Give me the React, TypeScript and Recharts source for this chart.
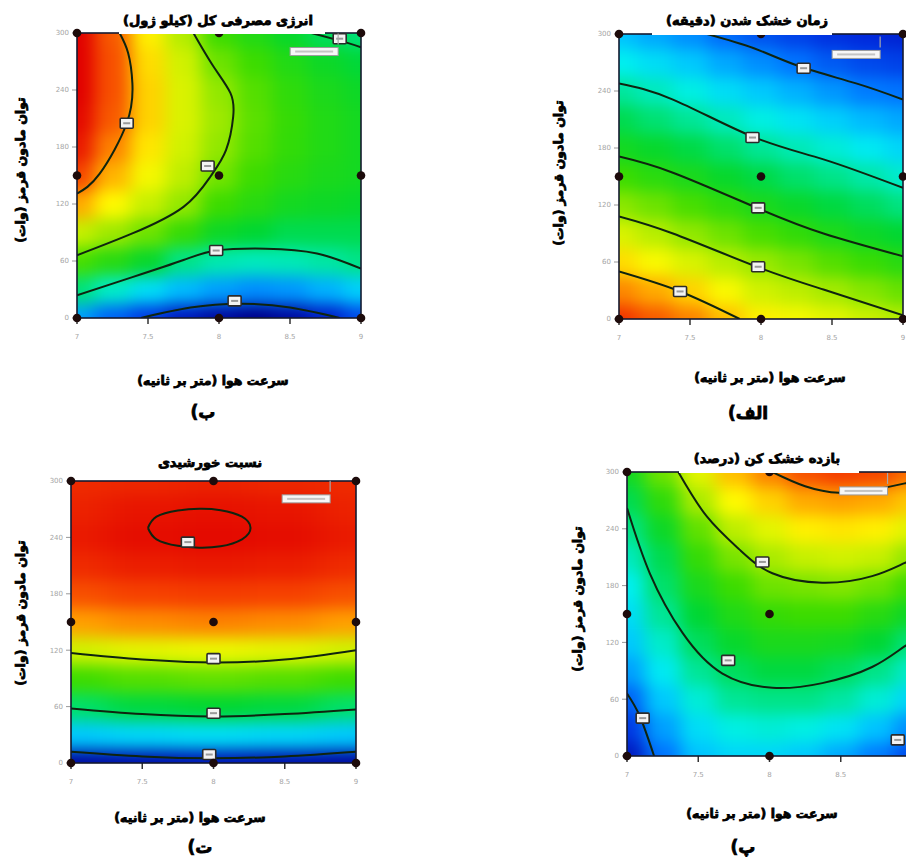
import React from 'react';
import { ScatterChart, Scatter, XAxis, YAxis } from 'recharts';

// axis ticks (air speed m/s, IR power W)
const airSpeedTicks = [7, 7.5, 8, 8.5, 9];
const powerTicks = [0, 60, 120, 180, 240, 300];

// sampling grid the colour field was read on
const gridX = [7, 7.25, 7.5, 7.75, 8, 8.25, 8.5, 8.75, 9];
const gridXCoarse = [7, 7.5, 8, 8.5, 9];
const gridY = [0, 30, 60, 90, 120, 150, 180, 210, 240, 270, 300];

// face-centred design points
const designPoints = [
  { x: 7, y: 0 }, { x: 8, y: 0 }, { x: 9, y: 0 },
  { x: 7, y: 150 }, { x: 8, y: 150 }, { x: 9, y: 150 },
  { x: 7, y: 300 }, { x: 8, y: 300 }, { x: 9, y: 300 },
];
const frameCorner = [{ x: 7, y: 300 }];

// ---- الف : drying time (relative level, one column per gridX, rows = gridY)
const dryField = [
  [0.94, 0.855, 0.77, 0.7, 0.625, 0.56, 0.5, 0.45, 0.395, 0.33, 0.26],
  [0.9, 0.82, 0.735, 0.665, 0.6, 0.535, 0.48, 0.425, 0.37, 0.3, 0.23],
  [0.86, 0.78, 0.7, 0.63, 0.57, 0.51, 0.457, 0.4, 0.34, 0.27, 0.2],
  [0.8, 0.735, 0.665, 0.6, 0.54, 0.48, 0.43, 0.37, 0.3, 0.23, 0.16],
  [0.75, 0.69, 0.635, 0.57, 0.51, 0.455, 0.4, 0.34, 0.27, 0.2, 0.13],
  [0.73, 0.67, 0.61, 0.545, 0.485, 0.43, 0.375, 0.31, 0.24, 0.17, 0.11],
  [0.71, 0.645, 0.58, 0.515, 0.46, 0.41, 0.35, 0.28, 0.21, 0.14, 0.09],
  [0.685, 0.62, 0.555, 0.49, 0.44, 0.385, 0.32, 0.25, 0.18, 0.12, 0.08],
  [0.66, 0.595, 0.53, 0.47, 0.415, 0.357, 0.29, 0.23, 0.17, 0.11, 0.07],
];
const dryContours = [
  [{ x: 7.62, y: 300 }, { x: 7.95, y: 285 }, { x: 8.27, y: 266 }, { x: 8.67, y: 248 }, { x: 9, y: 231 }],
  [{ x: 7, y: 248 }, { x: 7.38, y: 231 }, { x: 7.94, y: 192 }, { x: 8.44, y: 168 }, { x: 9, y: 138 }],
  [{ x: 7, y: 171 }, { x: 7.38, y: 154 }, { x: 7.97, y: 117 }, { x: 8.44, y: 90 }, { x: 9, y: 66 }],
  [{ x: 7, y: 108 }, { x: 7.38, y: 90 }, { x: 7.97, y: 55 }, { x: 8.44, y: 31 }, { x: 9, y: 4 }],
  [{ x: 7, y: 50 }, { x: 7.43, y: 29 }, { x: 7.85, y: 0 }],
];
const dryLabels = [{ x: 8.3, y: 264 }, { x: 7.94, y: 191 }, { x: 7.98, y: 117 }, { x: 7.98, y: 55 }, { x: 7.43, y: 29 }];
const dryNote = [{ x: 8.67, y: 278.5 }];

// ---- ب : total energy
const energyField = [
  [0.22, 0.42, 0.57, 0.68, 0.82, 0.92, 0.97, 0.99, 1, 1, 1],
  [0.15, 0.36, 0.53, 0.64, 0.74, 0.81, 0.86, 0.9, 0.91, 0.91, 0.9],
  [0.1, 0.3, 0.48, 0.6, 0.68, 0.73, 0.76, 0.78, 0.78, 0.77, 0.75],
  [0.05, 0.25, 0.41, 0.55, 0.63, 0.67, 0.69, 0.7, 0.7, 0.69, 0.66],
  [0.02, 0.22, 0.38, 0.49, 0.56, 0.605, 0.63, 0.64, 0.63, 0.6, 0.56],
  [0, 0.2, 0.37, 0.47, 0.53, 0.56, 0.58, 0.585, 0.58, 0.56, 0.52],
  [0.02, 0.21, 0.375, 0.45, 0.5, 0.53, 0.545, 0.55, 0.54, 0.52, 0.48],
  [0.06, 0.24, 0.39, 0.45, 0.49, 0.51, 0.52, 0.52, 0.51, 0.49, 0.44],
  [0.12, 0.28, 0.41, 0.45, 0.48, 0.5, 0.5, 0.5, 0.49, 0.465, 0.42],
];
const energyContours = [
  [{ x: 7, y: 131 }, { x: 7.16, y: 152 }, { x: 7.35, y: 205 }, { x: 7.39, y: 247 }, { x: 7.36, y: 279 }, { x: 7.3, y: 300 }],
  [{ x: 7, y: 66 }, { x: 7.39, y: 89 }, { x: 7.75, y: 117 }, { x: 7.94, y: 149 }, { x: 8.05, y: 177 }, { x: 8.1, y: 212 }, { x: 8.08, y: 237 }, { x: 7.96, y: 265 }, { x: 7.82, y: 300 }],
  [{ x: 7, y: 24 }, { x: 7.39, y: 43 }, { x: 7.75, y: 61 }, { x: 7.98, y: 71 }, { x: 8.33, y: 73 }, { x: 8.69, y: 68 }, { x: 9, y: 52 }],
  [{ x: 8.65, y: 300 }, { x: 8.85, y: 292 }, { x: 9, y: 285 }],
  [{ x: 7.45, y: 0 }, { x: 7.8, y: 11 }, { x: 8.15, y: 15 }, { x: 8.5, y: 11 }, { x: 8.85, y: 0 }],
];
const energyLabels = [{ x: 7.35, y: 205 }, { x: 7.92, y: 160 }, { x: 7.98, y: 71 }, { x: 8.11, y: 18 }, { x: 8.85, y: 294 }];
const energyNote = [{ x: 8.67, y: 280.5 }];

// ---- پ : dryer efficiency
const effField = [
  [0.05, 0.1, 0.15, 0.22, 0.27, 0.3, 0.33, 0.37, 0.41, 0.45, 0.5],
  [0.17, 0.22, 0.27, 0.32, 0.36, 0.4, 0.43, 0.45, 0.49, 0.54, 0.6],
  [0.26, 0.3, 0.35, 0.4, 0.44, 0.47, 0.51, 0.55, 0.59, 0.65, 0.71],
  [0.29, 0.34, 0.4, 0.44, 0.48, 0.52, 0.56, 0.61, 0.67, 0.74, 0.8],
  [0.29, 0.35, 0.41, 0.46, 0.51, 0.55, 0.6, 0.65, 0.71, 0.78, 0.86],
  [0.27, 0.34, 0.41, 0.46, 0.51, 0.56, 0.61, 0.68, 0.75, 0.82, 0.91],
  [0.23, 0.31, 0.39, 0.44, 0.5, 0.56, 0.62, 0.69, 0.76, 0.83, 0.93],
  [0.18, 0.26, 0.35, 0.41, 0.47, 0.53, 0.6, 0.68, 0.75, 0.82, 0.92],
  [0.12, 0.2, 0.29, 0.36, 0.42, 0.49, 0.56, 0.63, 0.71, 0.79, 0.88],
];
const effContours = [
  [{ x: 8.02, y: 300 }, { x: 8.25, y: 285 }, { x: 8.49, y: 278 }, { x: 8.72, y: 281 }, { x: 8.95, y: 288 }, { x: 9.05, y: 292 }],
  [{ x: 7.36, y: 300 }, { x: 7.56, y: 253 }, { x: 7.79, y: 218 }, { x: 8.02, y: 193 }, { x: 8.37, y: 183 }, { x: 8.72, y: 190 }, { x: 8.95, y: 204 }, { x: 9.05, y: 209 }],
  [{ x: 7, y: 262 }, { x: 7.16, y: 193 }, { x: 7.39, y: 130 }, { x: 7.67, y: 87 }, { x: 8.02, y: 72 }, { x: 8.37, y: 77 }, { x: 8.72, y: 94 }, { x: 8.95, y: 116 }, { x: 9.05, y: 122 }],
  [{ x: 7, y: 66 }, { x: 7.09, y: 42 }, { x: 7.19, y: 0 }],
];
const effLabels = [{ x: 7.95, y: 205 }, { x: 7.71, y: 101 }, { x: 7.11, y: 40 }, { x: 8.9, y: 17 }];
const effNote = [{ x: 8.66, y: 280 }];

// ---- ت : sun ratio (coarse columns, gridXCoarse)
const solarField = [
  [0.02, 0.27, 0.43, 0.56, 0.69, 0.83, 0.91, 0.95, 0.97, 0.96, 0.95],
  [0.03, 0.29, 0.46, 0.58, 0.71, 0.85, 0.925, 0.965, 0.985, 0.975, 0.955],
  [0.04, 0.3, 0.47, 0.59, 0.72, 0.86, 0.93, 0.97, 0.99, 0.98, 0.96],
  [0.03, 0.29, 0.46, 0.58, 0.71, 0.85, 0.925, 0.965, 0.985, 0.975, 0.955],
  [0.02, 0.27, 0.43, 0.56, 0.69, 0.83, 0.91, 0.95, 0.97, 0.96, 0.95],
];
const solarContours = [
  [{ x: 7.54, y: 250 }, { x: 7.6, y: 262 }, { x: 7.75, y: 268.5 }, { x: 7.9, y: 270.5 }, { x: 8.05, y: 269 }, { x: 8.2, y: 262 }, { x: 8.26, y: 250 }, { x: 8.2, y: 238 }, { x: 8.05, y: 230.5 }, { x: 7.9, y: 229 }, { x: 7.75, y: 231 }, { x: 7.6, y: 238 }, { x: 7.54, y: 250 }],
  [{ x: 7, y: 117 }, { x: 7.5, y: 110 }, { x: 8, y: 107 }, { x: 8.5, y: 110 }, { x: 9, y: 120 }],
  [{ x: 7, y: 58 }, { x: 7.5, y: 52 }, { x: 8, y: 49.5 }, { x: 8.5, y: 52 }, { x: 9, y: 57 }],
  [{ x: 7, y: 12 }, { x: 7.5, y: 7 }, { x: 8, y: 5 }, { x: 8.5, y: 7 }, { x: 9, y: 12 }],
];
const solarLabels = [{ x: 7.82, y: 235 }, { x: 8, y: 111 }, { x: 8, y: 53 }, { x: 7.97, y: 9 }];
const solarNote = [{ x: 8.65, y: 281 }];

const FONT = '"DejaVu Sans", sans-serif';
const LINE = '#0f240f';

const STOPS: [number, number[]][] = [
  [0, [0, 0, 140]],
  [0.08, [0, 40, 220]],
  [0.17, [0, 115, 255]],
  [0.26, [0, 195, 255]],
  [0.33, [0, 240, 240]],
  [0.4, [0, 230, 150]],
  [0.47, [0, 215, 50]],
  [0.56, [60, 220, 0]],
  [0.65, [170, 235, 0]],
  [0.74, [255, 250, 0]],
  [0.84, [255, 150, 0]],
  [0.93, [245, 60, 0]],
  [1, [225, 0, 0]],
];

function colour(v: number) {
  const t = Math.max(0, Math.min(1, v));
  for (let k = 1; k < STOPS.length; k++) {
    const [p1, c1] = STOPS[k];
    const [p0, c0] = STOPS[k - 1];
    if (t <= p1) {
      const f = (t - p0) / (p1 - p0);
      const c = c0.map((a, n) => Math.round(a + (c1[n] - a) * f));
      return `rgb(${c[0]},${c[1]},${c[2]})`;
    }
  }
  return 'rgb(225,0,0)';
}

const toCells = (xs: number[], field: number[][]) =>
  xs.flatMap((x, i) => gridY.map((y, j) => ({ x, y, v: field[i][j], i, j })));

const heatShape = (cw: number, ch: number, ni: number, nj: number) => (p: any) => {
  const { cx, cy, payload } = p;
  let x0 = cx - cw / 2;
  let x1 = cx + cw / 2;
  let y0 = cy - ch / 2;
  let y1 = cy + ch / 2;
  if (payload.i === 0) x0 -= 30;
  if (payload.i === ni - 1) x1 += 30;
  if (payload.j === 0) y1 += 30;
  if (payload.j === nj - 1) y0 -= 30;
  return <rect x={x0} y={y0} width={x1 - x0 + 0.6} height={y1 - y0 + 0.6} fill={colour(payload.v)} />;
};

const frameShape = (pw: number, ph: number) => (p: any) => (
  <rect x={p.cx} y={p.cy} width={pw} height={ph} fill="none" stroke="#151a30" strokeWidth={1.6} />
);

const NoShape = () => <g />;

const LabelBox = (p: any) => (
  <g>
    <rect x={p.cx - 6.5} y={p.cy - 5} width={13} height={10} rx={1} fill="#f3f3f3" stroke="#2b2b2b" strokeWidth={1.6} />
    <rect x={p.cx - 3.5} y={p.cy - 1} width={7} height={2} fill="#9a9a9a" />
  </g>
);

const NoteBox = (p: any) => (
  <g>
    <rect x={p.cx - 24} y={p.cy - 4} width={48} height={8} fill="#f7f7f7" stroke="#9c9c9c" strokeWidth={1} />
    <rect x={p.cx - 19} y={p.cy - 1} width={38} height={2} fill="#c4c4c4" />
    <line x1={p.cx + 24} y1={p.cy - 18} x2={p.cx + 24} y2={p.cy - 7} stroke="#a8a8a8" strokeWidth={1.2} />
  </g>
);

const Dot = (p: any) => <circle cx={p.cx} cy={p.cy} r={4.3} fill="#1d0b0b" />;

type PanelProps = {
  id: string;
  left: number;
  top: number;
  pw: number;
  ph: number;
  xs: number[];
  field: number[][];
  blur: string;
  contours: { x: number; y: number }[][];
  labels: { x: number; y: number }[];
  note: { x: number; y: number }[];
};

function ContourPanel({ id, left, top, pw, ph, xs, field, blur, contours, labels, note }: PanelProps) {
  const cw = pw / (xs.length - 1);
  const ch = ph / (gridY.length - 1);
  const cells = toCells(xs, field);
  return (
    <div style={{ position: 'absolute', left: left - 60, top: top - 10 }}>
      <style>{`.heat-${id} { filter: url(#blur-${id}); }`}</style>
      <svg width={0} height={0} style={{ position: 'absolute' }}>
        <defs>
          <filter id={`blur-${id}`} colorInterpolationFilters="sRGB">
            <feGaussianBlur stdDeviation={blur} />
          </filter>
        </defs>
      </svg>
      <ScatterChart width={pw + 70} height={ph + 50} margin={{ top: 10, right: 10, bottom: 0, left: 0 }}>
        <XAxis
          type="number"
          dataKey="x"
          domain={[7, 9]}
          ticks={airSpeedTicks}
          allowDataOverflow
          height={40}
          axisLine={false}
          tickSize={6}
          tickMargin={10}
          tickLine={{ stroke: '#333', strokeWidth: 1.5 }}
          tick={{ fontSize: 7, fill: '#a5a5a5', fontFamily: FONT }}
        />
        <YAxis
          type="number"
          dataKey="y"
          domain={[0, 300]}
          ticks={powerTicks}
          allowDataOverflow
          width={60}
          axisLine={false}
          tickSize={5}
          tickMargin={3}
          tickLine={{ stroke: '#999' }}
          tick={{ fontSize: 7, fill: '#a5a5a5', fontFamily: FONT }}
        />
        <XAxis xAxisId="free" type="number" dataKey="x" domain={[7, 9]} hide />
        <YAxis yAxisId="free" type="number" dataKey="y" domain={[0, 300]} hide />
        <Scatter data={cells} shape={heatShape(cw, ch, xs.length, gridY.length)} className={`heat-${id}`} isAnimationActive={false} />
        {contours.map((c, k) => (
          <Scatter
            key={k}
            data={c}
            line={{ stroke: LINE, strokeWidth: 2 }}
            lineJointType="natural"
            shape={NoShape}
            isAnimationActive={false}
          />
        ))}
        <Scatter xAxisId="free" yAxisId="free" data={frameCorner} shape={frameShape(pw, ph)} isAnimationActive={false} />
        <Scatter xAxisId="free" yAxisId="free" data={labels} shape={LabelBox} isAnimationActive={false} />
        <Scatter xAxisId="free" yAxisId="free" data={note} shape={NoteBox} isAnimationActive={false} />
        <Scatter xAxisId="free" yAxisId="free" data={designPoints} shape={Dot} isAnimationActive={false} />
      </ScatterChart>
    </div>
  );
}

const Txt = ({ x, y, size, children, rotate }: { x: number; y: number; size: number; children: React.ReactNode; rotate?: boolean }) => (
  <div
    dir="rtl"
    style={{
      position: 'absolute',
      left: x,
      top: y,
      transform: `translate(-50%, -50%)${rotate ? ' rotate(-90deg)' : ''}`,
      whiteSpace: 'nowrap',
      fontFamily: FONT,
      fontWeight: 'bold',
      fontSize: size,
      color: '#000',
      WebkitTextStroke: '0.8px #000',
      zIndex: 5,
    }}
  >
    {children}
  </div>
);

const WhiteBox = ({ x1, x2, y1, y2 }: { x1: number; x2: number; y1: number; y2: number }) => (
  <div style={{ position: 'absolute', left: x1, top: y1, width: x2 - x1, height: y2 - y1, background: '#fff', zIndex: 4 }} />
);

export default function App() {
  const yLabel = 'توان مادون قرمز (وات)';
  const xLabel = 'سرعت هوا (متر بر ثانیه)';
  return (
    <div style={{ position: 'absolute', left: 0, top: 0, width: 906, height: 857, overflow: 'hidden', background: '#fff' }}>
      {/* ب energy */}
      <ContourPanel id="energy" left={77} top={33} pw={284} ph={285} xs={gridX} field={energyField} blur="9 8" contours={energyContours} labels={energyLabels} note={energyNote} />
      <WhiteBox x1={119} x2={325} y1={0} y2={34} />
      <Txt x={218} y={20} size={13}>انرژی مصرفی کل (کیلو ژول)</Txt>
      <Txt x={20} y={170} size={12.5} rotate>{yLabel}</Txt>
      <Txt x={213} y={380} size={12.5}>{xLabel}</Txt>
      <Txt x={203} y={412} size={17}>ب)</Txt>

      {/* الف drying time */}
      <ContourPanel id="dry" left={619} top={34} pw={284} ph={285} xs={gridX} field={dryField} blur="9 8" contours={dryContours} labels={dryLabels} note={dryNote} />
      <WhiteBox x1={652} x2={832} y1={0} y2={35} />
      <Txt x={747} y={20} size={13}>زمان خشک شدن (دقیقه)</Txt>
      <Txt x={558} y={173} size={12.5} rotate>{yLabel}</Txt>
      <Txt x={770} y={377} size={12.5}>{xLabel}</Txt>
      <Txt x={748} y={413} size={17}>الف)</Txt>

      {/* ت sun ratio */}
      <ContourPanel id="solar" left={71} top={481} pw={285} ph={282} xs={gridXCoarse} field={solarField} blur="16 8" contours={solarContours} labels={solarLabels} note={solarNote} />
      <Txt x={210} y={462} size={13}>نسبت خورشیدی</Txt>
      <Txt x={20} y={613} size={12.5} rotate>{yLabel}</Txt>
      <Txt x={190} y={817} size={12.5}>{xLabel}</Txt>
      <Txt x={200} y={847} size={17}>ت)</Txt>

      {/* پ dryer efficiency */}
      <ContourPanel id="eff" left={627} top={472} pw={285} ph={284} xs={gridX} field={effField} blur="9 8" contours={effContours} labels={effLabels} note={effNote} />
      <WhiteBox x1={679} x2={859} y1={440} y2={473} />
      <Txt x={767} y={458} size={13}>بازده خشک کن (درصد)</Txt>
      <Txt x={577} y={599} size={12.5} rotate>{yLabel}</Txt>
      <Txt x={762} y={813} size={12.5}>{xLabel}</Txt>
      <Txt x={743} y={847} size={17}>پ)</Txt>
    </div>
  );
}
